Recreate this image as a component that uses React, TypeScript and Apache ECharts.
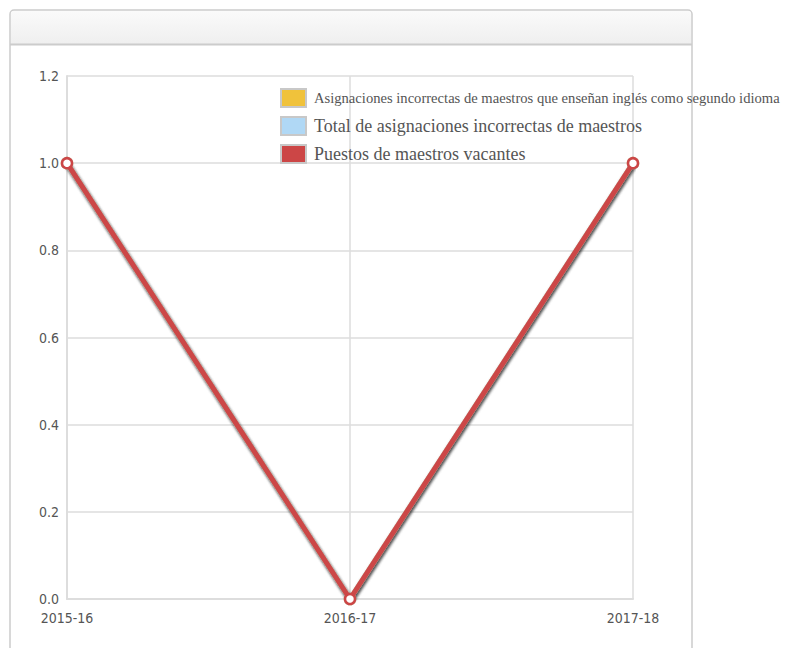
import React, { useEffect, useRef } from "react";
import * as echarts from "echarts";

const categories = ["2015-16", "2016-17", "2017-18"];
const seriesNames = [
  "Asignaciones incorrectas de maestros que enseñan inglés como segundo idioma",
  "Total de asignaciones incorrectas de maestros",
  "Puestos de maestros vacantes",
];
const esl = [1, 0, 1];
const total = [1, 0, 1];
const vacant = [1, 0, 1];
const yTicks = [0, 0.2, 0.4, 0.6, 0.8, 1.0, 1.2];
const colors = ["#f0c23b", "#b0d8f5", "#cc4646"];

export default function App() {
  const ref = useRef<HTMLDivElement>(null);
  useEffect(() => {
    if (!ref.current) return;
    const chart = echarts.init(ref.current, null, { renderer: "svg" });
    const values = [esl, total, vacant];
    const axisFont = "'DejaVu Sans Condensed', 'DejaVu Sans', sans-serif";
    chart.setOption({
      animation: false,
      backgroundColor: "#ffffff",
      grid: { left: 67, right: 168, top: 76, bottom: 49, containLabel: false },
      legend: {
        orient: "vertical",
        left: 278,
        top: 86,
        itemWidth: 25,
        itemHeight: 18,
        itemGap: 8,
        padding: [2, 4, 2, 2],
        backgroundColor: "transparent",
        icon: "rect",
        itemStyle: { borderColor: "#c8c8c8", borderWidth: 2 },
        data: seriesNames.map((n, i) => ({
          name: n,
          itemStyle: { color: colors[i], borderColor: "#c8c8c8", borderWidth: 2 },
          textStyle: i === 0 ? { fontSize: 14.6 } : {},
        })),
        textStyle: {
          fontFamily: "'Liberation Serif', serif",
          fontSize: 18,
          color: "#555555",
          padding: [0, 0, 0, 3],
        },
        z: 5,
      },
      xAxis: {
        type: "category",
        data: categories,
        boundaryGap: false,
        axisLine: { lineStyle: { color: "#dddddd", width: 2 } },
        axisTick: { show: false },
        splitLine: { show: true, lineStyle: { color: "#dddddd", width: 1.5 } },
        axisLabel: {
          color: "#555555",
          fontFamily: axisFont,
          fontSize: 14,
          margin: 12,
        },
      },
      yAxis: {
        type: "value",
        min: yTicks[0],
        max: yTicks[yTicks.length - 1],
        interval: 0.2,
        axisLine: { show: true, lineStyle: { color: "#dddddd", width: 2 } },
        axisTick: { show: false },
        splitLine: { show: true, lineStyle: { color: "#dddddd", width: 1.5 } },
        axisLabel: {
          color: "#555555",
          fontFamily: axisFont,
          fontSize: 14,
          margin: 8,
          formatter: (v: number) => v.toFixed(1),
        },
      },
      series: seriesNames.map((n, i) => ({
        name: n,
        type: "line",
        data: values[i],
        color: colors[i],
        symbol: "circle",
        symbolSize: 10,
        showSymbol: true,
        lineStyle: {
          width: 5,
          color: colors[i],
          shadowColor: "rgba(0,0,0,0.35)",
          shadowBlur: 3,
          shadowOffsetX: 1,
          shadowOffsetY: 2,
        },
        itemStyle: { color: "#ffffff", borderColor: colors[i], borderWidth: 2.5 },
        emphasis: { disabled: true },
        z: 3 + i,
      })),
      graphic: {
        z: 1,
        elements: [
          {
            type: "rect",
            silent: true,
            shape: { x: 278, y: 84, width: 411, height: 75 },
            style: { fill: "rgba(255,255,255,0.7)" },
          },
          {
            type: "rect",
            silent: true,
            shape: { x: 11, y: 11, width: 680, height: 33, r: [3, 3, 0, 0] },
            style: {
              fill: new echarts.graphic.LinearGradient(0, 0, 0, 1, [
                { offset: 0, color: "#fafafa" },
                { offset: 1, color: "#efefef" },
              ]),
            },
          },
          {
            type: "line",
            silent: true,
            shape: { x1: 10, y1: 44.5, x2: 692, y2: 44.5 },
            style: { stroke: "#cccccc", lineWidth: 2 },
          },
          {
            type: "rect",
            silent: true,
            shape: { x: 10, y: 10, width: 682, height: 660, r: 4 },
            style: { fill: "none", stroke: "#cccccc", lineWidth: 1.5 },
          },
        ],
      },
    });
    return () => chart.dispose();
  }, []);
  return (
    <div
      ref={ref}
      style={{ position: "absolute", left: 0, top: 0, width: 801, height: 648 }}
    />
  );
}
